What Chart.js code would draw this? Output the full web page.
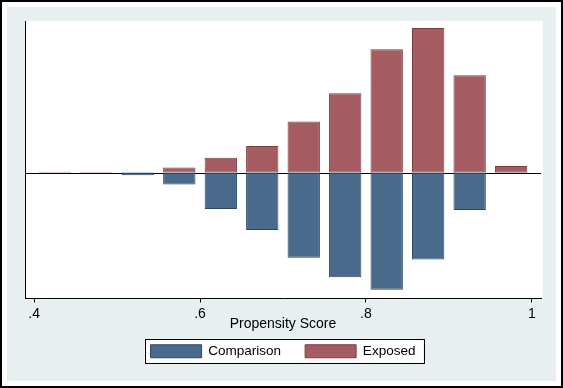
<!DOCTYPE html>
<html>
<head>
<meta charset="utf-8">
<script src="https://cdn.jsdelivr.net/npm/chart.js@4"></script>
<style>
  html, body { margin: 0; padding: 0; background: #fff; }
  #wrap { width: 563px; height: 388px; }
</style>
</head>
<body>
<div id="wrap"><canvas id="psChart" width="563" height="388"></canvas></div>
<script>
// bin midpoints of the propensity score histogram (width .05)
const binCenters = [0.425, 0.475, 0.525, 0.575, 0.625, 0.675, 0.725, 0.775, 0.825, 0.875, 0.925, 0.975];
// percent of each group per bin, comparison mirrored below zero
const exposed    = [0.15, 0.15, 0, 0.9, 2.7, 4.9, 9.4, 14.6, 22.7, 26.6, 17.9, 1.2];
const comparison = [0, 0, -0.5, -2.2, -6.7, -10.6, -15.7, -19.3, -21.6, -16.0, -6.9, -0.2];
const tickValues = [0.4, 0.6, 0.8, 1];
const tickLabels = ['.4', '.6', '.8', '1'];

const font = "'Liberation Sans', Arial, sans-serif";

// stata-ish frame: grey outer region, white plot region, legend box
const frame = {
  id: 'frame',
  beforeDraw(chart) {
    const ctx = chart.ctx, a = chart.chartArea;
    ctx.save();
    ctx.fillStyle = '#fff';
    ctx.fillRect(0, 0, chart.width, chart.height);
    ctx.fillStyle = '#e8eff1';
    ctx.fillRect(7, 7, chart.width - 14, chart.height - 14);
    ctx.strokeStyle = '#000';
    ctx.lineWidth = 2;
    ctx.strokeRect(1, 1, chart.width - 2, chart.height - 2);
    ctx.fillStyle = '#fff';
    ctx.fillRect(a.left, a.top, a.right - a.left + 2, a.bottom - a.top);

    const hb = chart.legend && chart.legend.legendHitBoxes;
    if (hb && hb.length) {
      const l = Math.min(...hb.map(h => h.left)) - 6;
      const r = Math.max(...hb.map(h => h.left + h.width)) + 8;
      const c = hb[0].top + hb[0].height / 2;
      ctx.fillStyle = '#fff';
      ctx.fillRect(l, c - 12, r - l, 24);
      ctx.lineWidth = 1;
      ctx.strokeRect(Math.round(l) + 0.5, Math.round(c - 12) + 0.5, Math.round(r - l), 24);
    }
    ctx.restore();
  },
  beforeDatasetsDraw(chart) {
    // zero line
    const ctx = chart.ctx, a = chart.chartArea;
    const y = Math.round(chart.scales.y.getPixelForValue(0)) + 0.5;
    ctx.save();
    ctx.strokeStyle = '#000';
    ctx.lineWidth = 1;
    ctx.beginPath();
    ctx.moveTo(a.left, y);
    ctx.lineTo(a.right, y);
    ctx.stroke();
    ctx.restore();
  }
};

new Chart(document.getElementById('psChart'), {
  type: 'bar',
  data: {
    datasets: [
      {
        label: 'Comparison',
        data: binCenters.map((x, i) => ({x: x, y: comparison[i]})),
        backgroundColor: '#4a6a8b',
        borderColor: '#2b4862',
        borderWidth: 1,
        borderSkipped: false
      },
      {
        label: 'Exposed',
        data: binCenters.map((x, i) => ({x: x, y: exposed[i]})),
        backgroundColor: '#a55c61',
        borderColor: '#7b3c42',
        borderWidth: 1,
        borderSkipped: false
      }
    ]
  },
  options: {
    responsive: false,
    animation: false,
    events: [],
    categoryPercentage: 1,
    barPercentage: 0.78,
    layout: { padding: { left: 25, top: 21, right: 22, bottom: 20 } },
    scales: {
      x: {
        type: 'linear',
        stacked: true,
        offset: false,
        min: 0.389,
        max: 1.011,
        afterBuildTicks(scale) {
          scale.ticks = tickValues.map(v => ({value: v}));
        },
        afterFit(scale) { scale.height = 22; },
        ticks: {
          color: '#000',
          padding: 3,
          maxRotation: 0,
          font: { family: font, size: 14 },
          callback: (v) => tickLabels[tickValues.indexOf(v)]
        },
        grid: { display: true, offset: false, drawOnChartArea: false, tickLength: 4, color: '#000' },
        border: { display: true, color: '#000', width: 1 },
        title: {
          display: true,
          text: 'Propensity Score',
          color: '#000',
          padding: { top: 0, bottom: -12 },
          font: { family: font, size: 14 }
        }
      },
      y: {
        stacked: true,
        min: -23.2,
        max: 27.9,
        ticks: { display: false },
        grid: { display: false, drawTicks: false },
        border: { display: true, color: '#000', width: 1 }
      }
    },
    plugins: {
      tooltip: { enabled: false },
      legend: {
        position: 'bottom',
        labels: {
          boxWidth: 51,
          boxHeight: 13,
          padding: 24,
          color: '#000',
          font: { family: font, size: 13.5 }
        }
      }
    }
  },
  plugins: [frame]
});
</script>
</body>
</html>
